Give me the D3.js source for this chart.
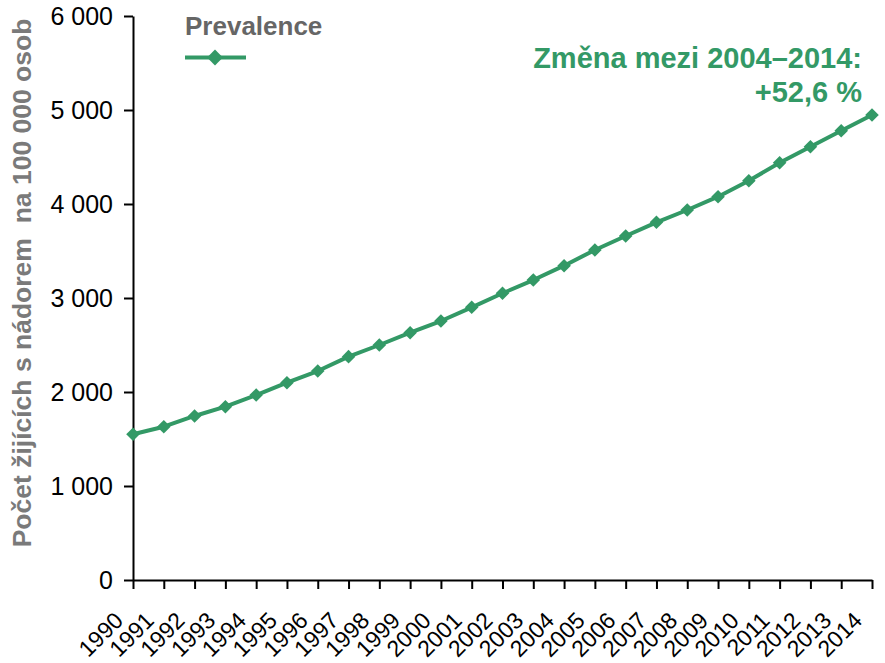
<!DOCTYPE html>
<html>
<head>
<meta charset="utf-8">
<script src="https://cdn.jsdelivr.net/npm/d3@7"></script>
<style>
  html, body { margin: 0; padding: 0; background: #fff; }
  svg { display: block; font-family: "Liberation Sans", Arial, Helvetica, sans-serif; }
</style>
</head>
<body>
<svg id="chart" width="885" height="663"></svg>
<script>
// Prevalence of persons living with a tumour per 100 000 inhabitants
const years = ["1990","1991","1992","1993","1994","1995","1996","1997","1998","1999",
               "2000","2001","2002","2003","2004","2005","2006","2007","2008","2009",
               "2010","2011","2012","2013","2014"];
const prevalence = [1550, 1631, 1745, 1844, 1968, 2099, 2223, 2376, 2500, 2631,
                    2755, 2901, 3050, 3191, 3344, 3511, 3660, 3805, 3936, 4078,
                    4248, 4439, 4610, 4780, 4947];
const yTicks = [0, 1000, 2000, 3000, 4000, 5000, 6000];
const seriesName = "Prevalence";
const yTitle = "Počet žijících s nádorem  na 100 000 osob";
const noteLines = ["Změna mezi 2004–2014:", "+52,6 %"];

const green = "#339966";
const svg = d3.select("#chart");

const x = d3.scalePoint().domain(years).range([133, 872]);
const y = d3.scaleLinear().domain([0, 6000]).range([580, 16]);

const fmt = v => d3.format(",")(v).replace(/,/g, " ");

// Y axis
const yAxis = svg.append("g")
  .attr("transform", "translate(133,0)")
  .call(d3.axisLeft(y).tickValues(yTicks).tickFormat(fmt).tickSize(9).tickPadding(11).tickSizeOuter(0));
yAxis.select(".domain").attr("stroke", "#000").attr("stroke-width", 2);
yAxis.selectAll(".tick line").attr("stroke", "#000").attr("stroke-width", 2);
yAxis.selectAll(".tick text").attr("font-size", 25).attr("fill", "#000")
  .attr("font-family", "Liberation Sans, Arial, sans-serif");

// X axis
const xAxis = svg.append("g")
  .attr("transform", "translate(0,580)")
  .call(d3.axisBottom(x).tickSize(9).tickSizeOuter(0).tickFormat(""));
xAxis.select(".domain").attr("stroke", "#000").attr("stroke-width", 2);
xAxis.selectAll(".tick line").attr("stroke", "#000").attr("stroke-width", 2);
xAxis.selectAll(".tick").append("text")
  .attr("transform", "translate(-9,42) rotate(-45)")
  .attr("text-anchor", "end")
  .attr("font-size", 23)
  .attr("fill", "#000")
  .text(d => d);

// Y axis title
svg.append("text")
  .attr("transform", `translate(31,${(16 + 580) / 2 - 15}) rotate(-90)`)
  .attr("text-anchor", "middle")
  .attr("font-size", 26.5)
  .attr("font-weight", "bold")
  .attr("fill", "#7a7a7a")
  .style("white-space", "pre")
  .text(yTitle);

// Line + markers
const line = d3.line().x((d, i) => x(years[i])).y(d => y(d));
svg.append("path")
  .datum(prevalence)
  .attr("fill", "none")
  .attr("stroke", green)
  .attr("stroke-width", 4)
  .attr("stroke-linejoin", "round")
  .attr("d", line);

const diamond = d3.symbol().type(d3.symbolSquare).size(92);
svg.append("g").selectAll("path")
  .data(prevalence)
  .join("path")
  .attr("d", diamond)
  .attr("fill", green)
  .attr("transform", (d, i) => `translate(${x(years[i])},${y(d)}) rotate(45)`);

// Legend
const legend = svg.append("g");
legend.append("text")
  .attr("x", 185).attr("y", 35)
  .attr("font-size", 26).attr("font-weight", "bold").attr("fill", "#666")
  .text(seriesName);
legend.append("line")
  .attr("x1", 185).attr("x2", 246).attr("y1", 57.5).attr("y2", 57.5)
  .attr("stroke", green).attr("stroke-width", 4);
legend.append("path")
  .attr("d", d3.symbol().type(d3.symbolSquare).size(125))
  .attr("fill", green)
  .attr("transform", "translate(215,57.5) rotate(45)");

// Change annotation
svg.append("g").selectAll("text")
  .data(noteLines)
  .join("text")
  .attr("x", 862)
  .attr("y", (d, i) => 68 + i * 34)
  .attr("text-anchor", "end")
  .attr("font-size", 29)
  .attr("font-weight", "bold")
  .attr("fill", green)
  .text(d => d);
</script>
</body>
</html>
